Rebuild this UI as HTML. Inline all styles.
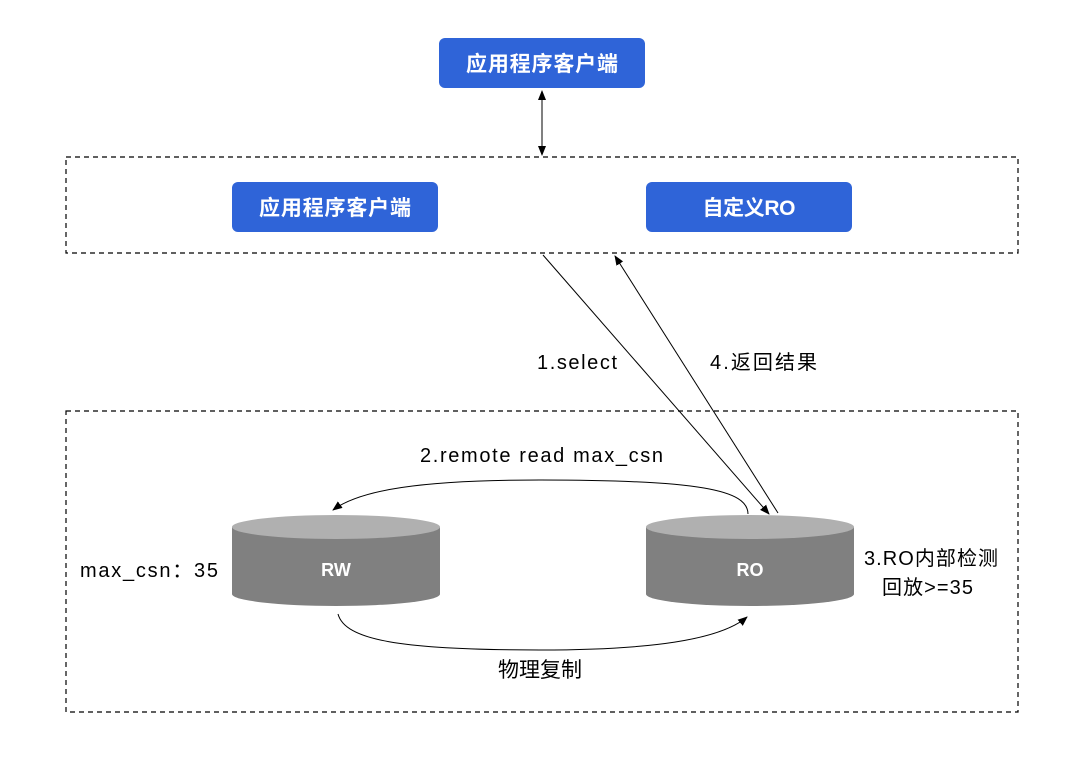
<!DOCTYPE html>
<html><head><meta charset="utf-8"><style>
body{margin:0;background:#fff}
svg{display:block}
text{font-family:"Liberation Sans","Noto Sans CJK SC",sans-serif}
</style></head><body>
<svg width="1082" height="762" viewBox="0 0 1082 762">
<defs><marker id="a" markerWidth="10" markerHeight="10" refX="9" refY="5" orient="auto-start-reverse" markerUnits="userSpaceOnUse"><path d="M0,1 L10,5 L0,9 Z" fill="#000"/></marker></defs>
<rect width="1082" height="762" fill="#fff"/>
<rect x="439" y="38" width="206" height="50" rx="6" fill="#2f64d8"/>
<text x="542" y="71" fill="#fff" font-size="21" text-anchor="middle" font-weight="bold" textLength="152">应用程序客户端</text>
<line x1="542" y1="91" x2="542" y2="155" stroke="#000" marker-end="url(#a)" marker-start="url(#a)"/>
<rect x="66" y="157" width="952" height="96" fill="none" stroke="#000" stroke-dasharray="5,4" stroke-width="1.2"/>
<rect x="232" y="182" width="206" height="50" rx="6" fill="#2f64d8"/>
<text x="335" y="215" fill="#fff" font-size="21" text-anchor="middle" font-weight="bold" textLength="152">应用程序客户端</text>
<rect x="646" y="182" width="206" height="50" rx="6" fill="#2f64d8"/>
<text x="749" y="215" fill="#fff" font-size="21" text-anchor="middle" font-weight="bold" textLength="93">自定义RO</text>
<rect x="66" y="411" width="952" height="301" fill="none" stroke="#000" stroke-dasharray="5,4" stroke-width="1.2"/>
<line x1="543" y1="255" x2="769" y2="514" stroke="#000" marker-end="url(#a)"/>
<line x1="778" y1="513" x2="615" y2="256" stroke="#000" marker-end="url(#a)"/>
<text x="537" y="369" font-size="20" textLength="80">1.select</text>
<text x="710" y="369" font-size="20" textLength="107">4.返回结果</text>
<text x="420" y="462" font-size="20" textLength="243">2.remote read max_csn</text>
<path d="M748,514 C748,490 700,480 540,480 C420,480 360,490 333,510" fill="none" stroke="#000" marker-end="url(#a)"/>
<path d="M338,614 C345,640 400,650 540,650 C650,650 720,640 747,617" fill="none" stroke="#000" marker-end="url(#a)"/>
<text x="498" y="677" font-size="21" textLength="84">物理复制</text>
<g>
<path d="M232,527 L232,594 A104,12 0 0 0 440,594 L440,527 Z" fill="#808080"/>
<ellipse cx="336" cy="527" rx="104" ry="12" fill="#b0b0b0"/>
<text x="336" y="576" fill="#fff" font-size="18" text-anchor="middle" font-weight="bold">RW</text>
<path d="M646,527 L646,594 A104,12 0 0 0 854,594 L854,527 Z" fill="#808080"/>
<ellipse cx="750" cy="527" rx="104" ry="12" fill="#b0b0b0"/>
<text x="750" y="576" fill="#fff" font-size="18" text-anchor="middle" font-weight="bold">RO</text>
</g>
<text x="80" y="577" font-size="20" textLength="138">max_csn：35</text>
<text x="864" y="565" font-size="20" textLength="134">3.RO内部检测</text>
<text x="882" y="594" font-size="20" textLength="91">回放&gt;=35</text>
</svg>
</body></html>
